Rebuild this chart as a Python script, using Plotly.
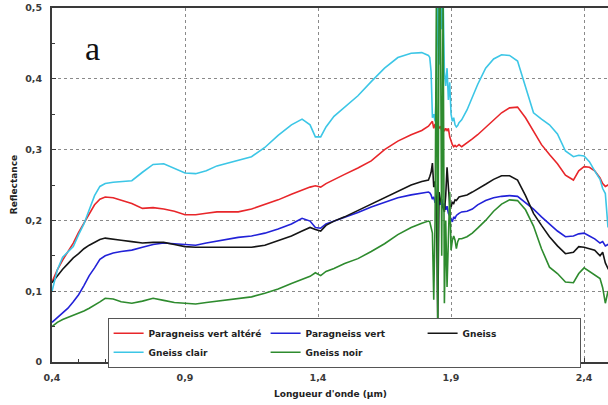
import plotly.graph_objects as go

# Wavelength grid (µm): smooth visible/NIR part, dense water-band part, SWIR part
wl_vnir = [0.40, 0.42, 0.44, 0.46, 0.48, 0.50, 0.52, 0.54, 0.56, 0.58, 0.60, 0.63, 0.66,
           0.70, 0.74, 0.78, 0.82, 0.86, 0.90, 0.94, 0.98, 1.02, 1.06, 1.10, 1.15, 1.20,
           1.25, 1.30, 1.34, 1.37, 1.39, 1.41, 1.43, 1.46, 1.50, 1.55, 1.60, 1.65, 1.70,
           1.75, 1.79, 1.815]
wl_water = [1.820, 1.825, 1.830, 1.835, 1.840, 1.845, 1.850, 1.855, 1.860, 1.865, 1.870,
            1.875, 1.880, 1.885, 1.890, 1.895, 1.900, 1.905, 1.910, 1.915, 1.920, 1.925, 1.930]
wl_swir = [1.94, 1.96, 1.98, 2.00, 2.03, 2.06, 2.09, 2.12, 2.15, 2.18, 2.21, 2.24, 2.27,
           2.30, 2.33, 2.36, 2.38, 2.40, 2.42, 2.44, 2.46, 2.47, 2.48, 2.49, 2.50]

# Reflectance spectra
paragneiss_altere = (
    [0.113, 0.130, 0.144, 0.156, 0.168, 0.183, 0.196, 0.208, 0.222, 0.230, 0.233, 0.232, 0.229,
     0.224, 0.217, 0.218, 0.216, 0.213, 0.208, 0.208, 0.210, 0.212, 0.212, 0.212, 0.216, 0.222,
     0.229, 0.237, 0.243, 0.247, 0.249, 0.247, 0.252, 0.258, 0.265, 0.274, 0.284, 0.300, 0.312,
     0.321, 0.327, 0.333]
    + [0.335, 0.338, 0.340, 0.330, 0.336, 0.328, 0.334, 0.330, 0.333, 0.327, 0.332, 0.326,
       0.330, 0.327, 0.330, 0.318, 0.312, 0.307, 0.304, 0.306, 0.304, 0.305, 0.307]
    + [0.304, 0.309, 0.315, 0.321, 0.331, 0.342, 0.352, 0.359, 0.360, 0.345, 0.325, 0.307,
       0.293, 0.280, 0.264, 0.257, 0.270, 0.276, 0.275, 0.270, 0.260, 0.252, 0.248, 0.250, 0.252]
)
paragneiss_vert = (
    [0.056, 0.063, 0.069, 0.076, 0.085, 0.095, 0.108, 0.122, 0.133, 0.145, 0.150, 0.154, 0.156,
     0.158, 0.162, 0.166, 0.168, 0.167, 0.166, 0.165, 0.168, 0.171, 0.173, 0.176, 0.178, 0.182,
     0.188, 0.195, 0.203, 0.199, 0.190, 0.189, 0.195, 0.199, 0.204, 0.211, 0.219, 0.226, 0.232,
     0.236, 0.239, 0.240]
    + [0.239, 0.236, 0.230, 0.233, 0.225, 0.232, 0.215, 0.228, 0.222, 0.230, 0.218, 0.224,
       0.215, 0.220, 0.210, 0.205, 0.200, 0.198, 0.205, 0.203, 0.207, 0.209, 0.210]
    + [0.212, 0.213, 0.216, 0.222, 0.228, 0.232, 0.234, 0.235, 0.234, 0.225, 0.216, 0.205,
       0.195, 0.185, 0.177, 0.178, 0.181, 0.182, 0.178, 0.174, 0.168, 0.170, 0.164, 0.166, 0.165]
)
gneiss = (
    [0.112, 0.122, 0.131, 0.139, 0.147, 0.153, 0.160, 0.165, 0.169, 0.173, 0.175, 0.174, 0.172,
     0.170, 0.168, 0.169, 0.169, 0.166, 0.163, 0.162, 0.162, 0.162, 0.162, 0.162, 0.162, 0.165,
     0.171, 0.178, 0.185, 0.190, 0.187, 0.185, 0.193, 0.199, 0.205, 0.214, 0.223, 0.232, 0.242,
     0.250, 0.255, 0.257]
    + [0.262, 0.268, 0.281, 0.247, 0.255, 0.230, 0.057, 0.240, 0.229, 0.222, 0.215, 0.212,
       0.235, 0.275, 0.247, 0.222, 0.219, 0.226, 0.224, 0.229, 0.228, 0.231, 0.233]
    + [0.234, 0.236, 0.240, 0.244, 0.251, 0.258, 0.263, 0.263, 0.257, 0.235, 0.210, 0.193,
       0.177, 0.164, 0.153, 0.155, 0.163, 0.162, 0.160, 0.158, 0.150, 0.155, 0.140, 0.132, 0.135]
)
gneiss_clair = (
    [0.100, 0.130, 0.148, 0.155, 0.163, 0.180, 0.195, 0.215, 0.235, 0.248, 0.252, 0.254, 0.255,
     0.256, 0.268, 0.279, 0.280, 0.273, 0.267, 0.266, 0.270, 0.277, 0.281, 0.284, 0.290, 0.303,
     0.320, 0.335, 0.343, 0.335, 0.318, 0.318, 0.332, 0.347, 0.360, 0.376, 0.396, 0.415, 0.430,
     0.436, 0.437, 0.433]
    + [0.430, 0.410, 0.345, 0.350, 0.340, 0.380, 0.520, 0.420, 0.520, 0.470, 0.520, 0.410,
       0.390, 0.415, 0.370, 0.395, 0.350, 0.340, 0.345, 0.335, 0.332, 0.334, 0.338]
    + [0.342, 0.356, 0.375, 0.392, 0.415, 0.428, 0.434, 0.433, 0.425, 0.390, 0.352, 0.343,
       0.335, 0.322, 0.298, 0.290, 0.292, 0.291, 0.283, 0.270, 0.258, 0.245, 0.238, 0.190, 0.240]
)
gneiss_noir = (
    [0.050, 0.056, 0.060, 0.063, 0.066, 0.068, 0.072, 0.076, 0.080, 0.085, 0.090, 0.089, 0.085,
     0.083, 0.086, 0.090, 0.087, 0.084, 0.083, 0.082, 0.084, 0.086, 0.088, 0.089, 0.092, 0.097,
     0.103, 0.111, 0.117, 0.121, 0.126, 0.122, 0.128, 0.132, 0.139, 0.146, 0.156, 0.167, 0.180,
     0.190, 0.196, 0.199]
    + [0.198, 0.190, 0.182, 0.088, 0.200, 0.520, 0.060, 0.520, 0.520, 0.150, 0.520, 0.083,
       0.200, 0.106, 0.160, 0.240, 0.158, 0.172, 0.178, 0.172, 0.160, 0.170, 0.174]
    + [0.174, 0.177, 0.182, 0.189, 0.200, 0.213, 0.223, 0.229, 0.228, 0.215, 0.192, 0.160,
       0.134, 0.125, 0.113, 0.112, 0.125, 0.133, 0.128, 0.124, 0.118, 0.105, 0.083, 0.100, 0.095]
)

wavelength = wl_vnir + wl_water + wl_swir

series_names = ["Paragneiss vert altéré", "Paragneiss vert", "Gneiss", "Gneiss clair", "Gneiss noir"]
series_values = [paragneiss_altere, paragneiss_vert, gneiss, gneiss_clair, gneiss_noir]
series_colors = ["#e8262a", "#2222d8", "#151515", "#3cc6e6", "#2e8b2e"]

x_ticks = [0.4, 0.9, 1.4, 1.9, 2.4]
x_tick_text = ["0,4", "0,9", "1,4", "1,9", "2,4"]
y_ticks = [0, 0.1, 0.2, 0.3, 0.4, 0.5]
y_tick_text = ["0", "0,1", "0,2", "0,3", "0,4", "0,5"]

fig = go.Figure()
for name, vals, col in zip(series_names, series_values, series_colors):
    fig.add_trace(go.Scatter(x=wavelength, y=vals, mode="lines", name=name,
                             line=dict(color=col, width=1.6)))

SANS = "DejaVu Sans, Verdana, sans-serif"
tick_font = dict(family=SANS, size=9.5, color="#3a3a3a", weight="bold")
title_font = dict(family=SANS, size=9, color="#222222", weight="bold")
axis_common = dict(
    showline=True, linecolor="#3a3a3a", linewidth=2,
    showgrid=True, gridcolor="#8a8a8a", gridwidth=1, griddash="dot",
    zeroline=False, ticks="inside", ticklen=4, tickcolor="#3a3a3a", tickwidth=1,
    tickfont=tick_font, automargin=False, ticklabelstandoff=6,
)

fig.update_layout(
    width=608, height=405,
    margin=dict(l=52, r=0, t=8, b=43),
    paper_bgcolor="white", plot_bgcolor="white",
    showlegend=True,
    legend=dict(
        orientation="h", entrywidth=112, entrywidthmode="pixels",
        x=0.1, y=0.125, xanchor="left", yanchor="top",
        bgcolor="white", bordercolor="#555555", borderwidth=1,
        font=dict(family=SANS, size=9, color="#222222", weight="bold"),
        tracegroupgap=0, itemwidth=30,
    ),
    xaxis=dict(
        range=[0.4, 2.49], tickvals=x_ticks, ticktext=x_tick_text, mirror=True,
        minor=dict(tick0=0.4, dtick=0.1, ticks="inside", ticklen=3, tickcolor="#3a3a3a", showgrid=False),
        **axis_common,
    ),
    yaxis=dict(
        range=[0, 0.5], tickvals=y_ticks, ticktext=y_tick_text,
        minor=dict(tick0=0, dtick=0.05, ticks="inside", ticklen=3, tickcolor="#3a3a3a", showgrid=False),
        **axis_common,
    ),
    annotations=[
        dict(text="a", xref="paper", yref="paper", x=0.072, y=0.885, xanchor="center", yanchor="middle",
             showarrow=False, font=dict(family="Liberation Serif, Times New Roman, serif", size=34, color="#111111")),
        dict(text="Longueur d'onde (µm)", xref="paper", yref="paper", x=0.5, y=-0.09,
             xanchor="center", yanchor="middle", showarrow=False, font=title_font),
        dict(text="Reflectance", xref="paper", yref="paper", x=-0.068, y=0.5, textangle=-90,
             xanchor="center", yanchor="middle", showarrow=False, font=title_font),
    ],
)

fig.write_html("out.html")
